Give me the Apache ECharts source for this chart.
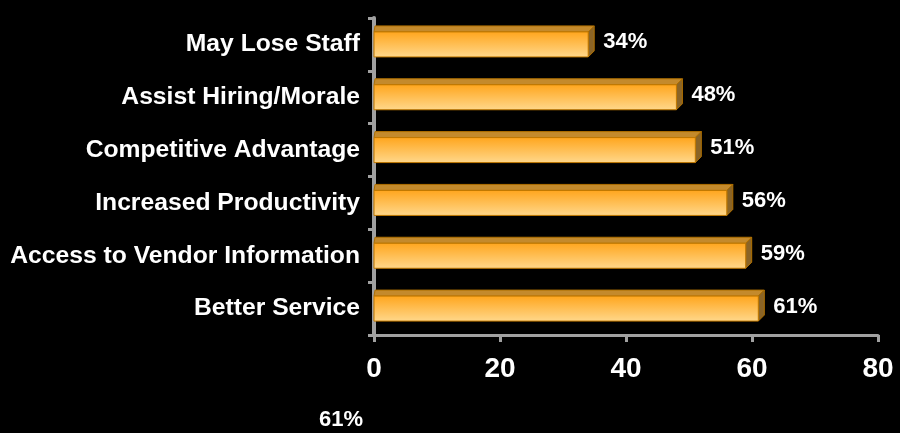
<!DOCTYPE html>
<html>
<head>
<meta charset="utf-8">
<script src="https://cdn.jsdelivr.net/npm/echarts@6/dist/echarts.min.js"></script>
<style>
  html, body { margin: 0; padding: 0; background: #000; }
  #chart { width: 900px; height: 433px; }
</style>
</head>
<body>
<div id="chart"></div>
<script>
const categories = ['Better Service', 'Access to Vendor Information', 'Increased Productivity',
  'Competitive Advantage', 'Assist Hiring/Morale', 'May Lose Staff'];
const values = [61, 59, 56, 51, 48, 34];
const xTicks = [0, 20, 40, 60, 80];
const footNote = '61%';

const chart = echarts.init(document.getElementById('chart'));
const FONT = '"Liberation Sans", Arial, sans-serif';
const DEPTH = 6;

function renderBar(params, api) {
  const cat = api.value(1);
  const start = api.coord([0, cat]);
  const end = api.coord([api.value(0), cat]);
  const h = 25;
  const x0 = start[0], x1 = end[0];
  const y0 = end[1] - h / 2;
  return {
    type: 'group',
    children: [
      {
        type: 'polygon',
        shape: { points: [[x0, y0], [x0 + 1, y0 - DEPTH], [x1 + DEPTH, y0 - DEPTH], [x1, y0]] },
        style: { fill: '#C48A2C', stroke: '#B07000', lineWidth: 1 }
      },
      {
        type: 'polygon',
        shape: { points: [[x1, y0], [x1 + DEPTH, y0 - DEPTH], [x1 + DEPTH, y0 + h - DEPTH], [x1, y0 + h]] },
        style: { fill: '#8A6426', stroke: '#B07000', lineWidth: 1 }
      },
      {
        type: 'rect',
        shape: { x: x0, y: y0, width: x1 - x0, height: h },
        style: {
          fill: new echarts.graphic.LinearGradient(0, 0, 0, 1, [
            { offset: 0, color: '#FFA51C' },
            { offset: 1, color: '#FFD88C' }
          ]),
          stroke: '#C07800',
          lineWidth: 1
        }
      },
      {
        type: 'text',
        style: {
          x: x1 + DEPTH + 9,
          y: y0 + h / 2 - 2,
          text: api.value(0) + '%',
          fill: '#fff',
          font: 'bold 22px ' + FONT,
          verticalAlign: 'middle',
          align: 'left'
        }
      }
    ]
  };
}

chart.setOption({
  backgroundColor: '#000',
  animation: false,
  grid: { left: 374, right: 22, top: 18, bottom: 98 },
  xAxis: {
    type: 'value',
    min: 0,
    max: 80,
    interval: 20,
    splitLine: { show: false },
    axisLine: { show: true, lineStyle: { color: '#A0A0A0', width: 3 } },
    axisTick: { show: true, length: 7, lineStyle: { color: '#A0A0A0', width: 3 } },
    axisLabel: {
      color: '#fff',
      fontFamily: FONT,
      fontWeight: 'bold',
      fontSize: 28,
      margin: 20,
      customValues: xTicks
    }
  },
  yAxis: {
    type: 'category',
    data: categories,
    axisLine: { show: true, lineStyle: { color: '#A0A0A0', width: 4 } },
    axisTick: { show: true, length: 6, lineStyle: { color: '#A0A0A0', width: 3 } },
    axisLabel: {
      color: '#fff',
      fontFamily: FONT,
      fontWeight: 'bold',
      fontSize: 24.7,
      margin: 14,
      padding: [5, 0, 0, 0]
    }
  },
  series: [{
    type: 'custom',
    renderItem: renderBar,
    encode: { x: 0, y: 1 },
    data: values.map((v, i) => [v, i])
  }],
  graphic: [{
    type: 'text',
    left: 319,
    top: 409,
    style: { text: footNote, fill: '#fff', font: 'bold 22px ' + FONT }
  }]
});
</script>
</body>
</html>
